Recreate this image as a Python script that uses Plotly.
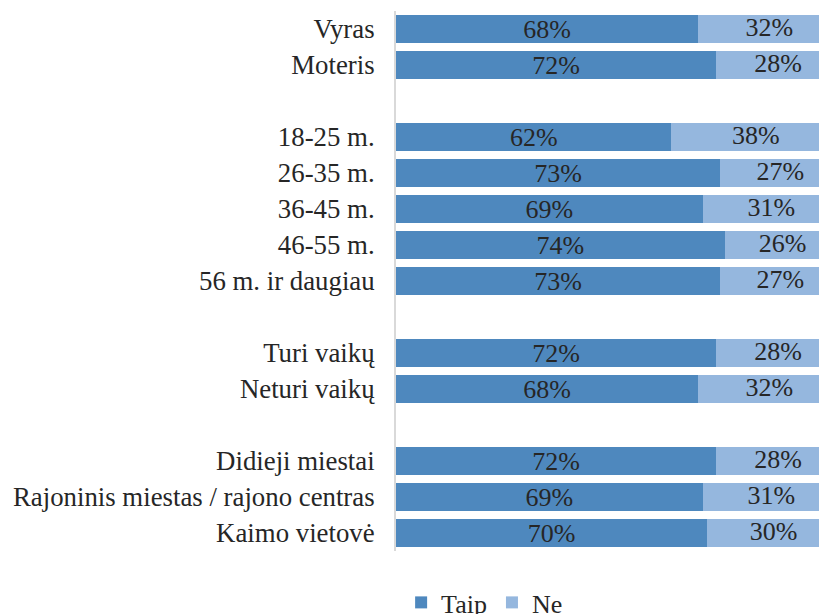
import plotly.graph_objects as go

categories = ["Vyras", "Moteris", " ", "18-25 m.", "26-35 m.", "36-45 m.", "46-55 m.",
              "56 m. ir daugiau", "  ", "Turi vaikų", "Neturi vaikų", "   ",
              "Didieji miestai", "Rajoninis miestas / rajono centras", "Kaimo vietovė"]
taip = [68, 72, None, 62, 73, 69, 74, 73, None, 72, 68, None, 72, 69, 70]
ne = [32, 28, None, 38, 27, 31, 26, 27, None, 28, 32, None, 28, 31, 30]

FONT = "Liberation Serif"
TXT = "#262626"

def labels(vals):
    return ["" if v is None else f"{v}%" for v in vals]

# centre of each "Ne" segment, derived from the data
ne_mid = [None if (t is None or n is None) else t + n / 2 for t, n in zip(taip, ne)]

fig = go.Figure()
fig.add_trace(go.Bar(name="Taip", y=categories, x=taip, orientation="h",
                     marker=dict(color="#4E88BE", line=dict(width=0)),
                     text=labels(taip), textposition="inside", insidetextanchor="middle",
                     textfont=dict(family=FONT, size=26, color=TXT),
                     constraintext="none"))
fig.add_trace(go.Bar(name="Ne", y=categories, x=ne, orientation="h",
                     marker=dict(color="#95B7DE", line=dict(width=0)),
                     textposition="none"))
fig.add_trace(go.Scatter(y=categories, x=ne_mid, mode="text", text=labels(ne),
                         textposition="middle center", showlegend=False,
                         textfont=dict(family=FONT, size=26, color=TXT),
                         cliponaxis=False, hoverinfo="skip"))

fig.update_layout(
    barmode="stack", bargap=0.2,
    width=819, height=606,
    margin=dict(l=388, r=0, t=3, b=63, autoexpand=False),
    paper_bgcolor="white", plot_bgcolor="white",
    font=dict(family=FONT, size=26, color=TXT),
    xaxis=dict(range=[0, 97], visible=False, fixedrange=True),
    yaxis=dict(categoryorder="array", categoryarray=categories,
               range=[len(categories) - 0.5, -0.5], autorange=False,
               showline=True, linecolor="#D9D9D9", linewidth=2, showgrid=False,
               automargin=False,
               ticks="", ticklabelstandoff=14, tickfont=dict(family=FONT, size=26.8, color=TXT)),
    legend=dict(orientation="h", xref="container", x=0.48, xanchor="left",
                yref="container", y=0.019, yanchor="middle",
                font=dict(family=FONT, size=26), traceorder="normal", itemwidth=30),
    showlegend=True,
)

fig.write_html("out.html")
